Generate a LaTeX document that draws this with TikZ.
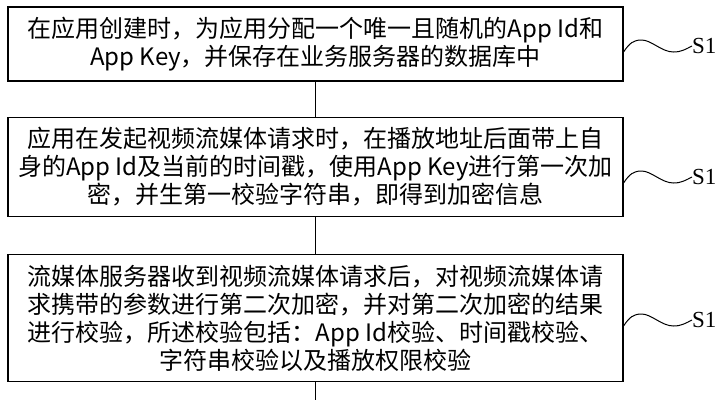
\documentclass[tikz,border=0pt]{standalone}
\usepackage{fontspec}
\setmainfont{Noto Sans CJK SC}
\newfontfamily\stepfont{Liberation Serif}
\begin{document}
\begin{tikzpicture}[x=1pt,y=1pt,
  stepbox/.style={draw,line width=1.1pt,minimum width=615pt,align=center,inner ysep=10pt,
    font=\fontsize{24}{28}\selectfont},
  steplabel/.style={anchor=west,inner sep=0pt,font=\stepfont\fontsize{23}{26}\selectfont}]

  \useasboundingbox (0,0) rectangle (723,-400);
  \path (315.5,-400) coordinate (E);

	\node[stepbox] (b1) at (315.5,-44) {在应用创建时，为应用分配一个唯一且随机的App Id和\\App Key，并保存在业务服务器的数据库中};
	\node[stepbox] (b2) at (315.5,-167) {应用在发起视频流媒体请求时，在播放地址后面带上自\\身的App Id及当前的时间戳，使用App Key进行第一次加\\密，并生第一校验字符串，即得到加密信息};
	\node[stepbox] (b3) at (315.5,-318) {流媒体服务器收到视频流媒体请求后，对视频流媒体请\\求携带的参数进行第二次加密，并对第二次加密的结果\\进行校验，所述校验包括：App Id校验、时间戳校验、\\字符串校验以及播放权限校验};

	\node[steplabel] (l1) at (692,-46) {S1};
	\node[steplabel] (l2) at (692,-177) {S1};
	\node[steplabel] (l3) at (692,-320) {S1};

	\draw[line width=1.1pt] (b1.south) -- (b2.north) (b2.south) -- (b3.north) (b3.south) -- (E);

	\foreach \b/\s in {1/8,2/16,3/8}{% wavy lead from each box
      \draw[line width=1pt] ([yshift=-\s pt]b\b.east) .. controls +(6,9) and +(-8,0) .. ++(18,12)
        .. controls +(10,0) and +(-12,0) .. ++(32,-12) .. controls +(8,0) and +(-6,-3) .. (l\b.west);}

  \end{tikzpicture}
\end{document}
